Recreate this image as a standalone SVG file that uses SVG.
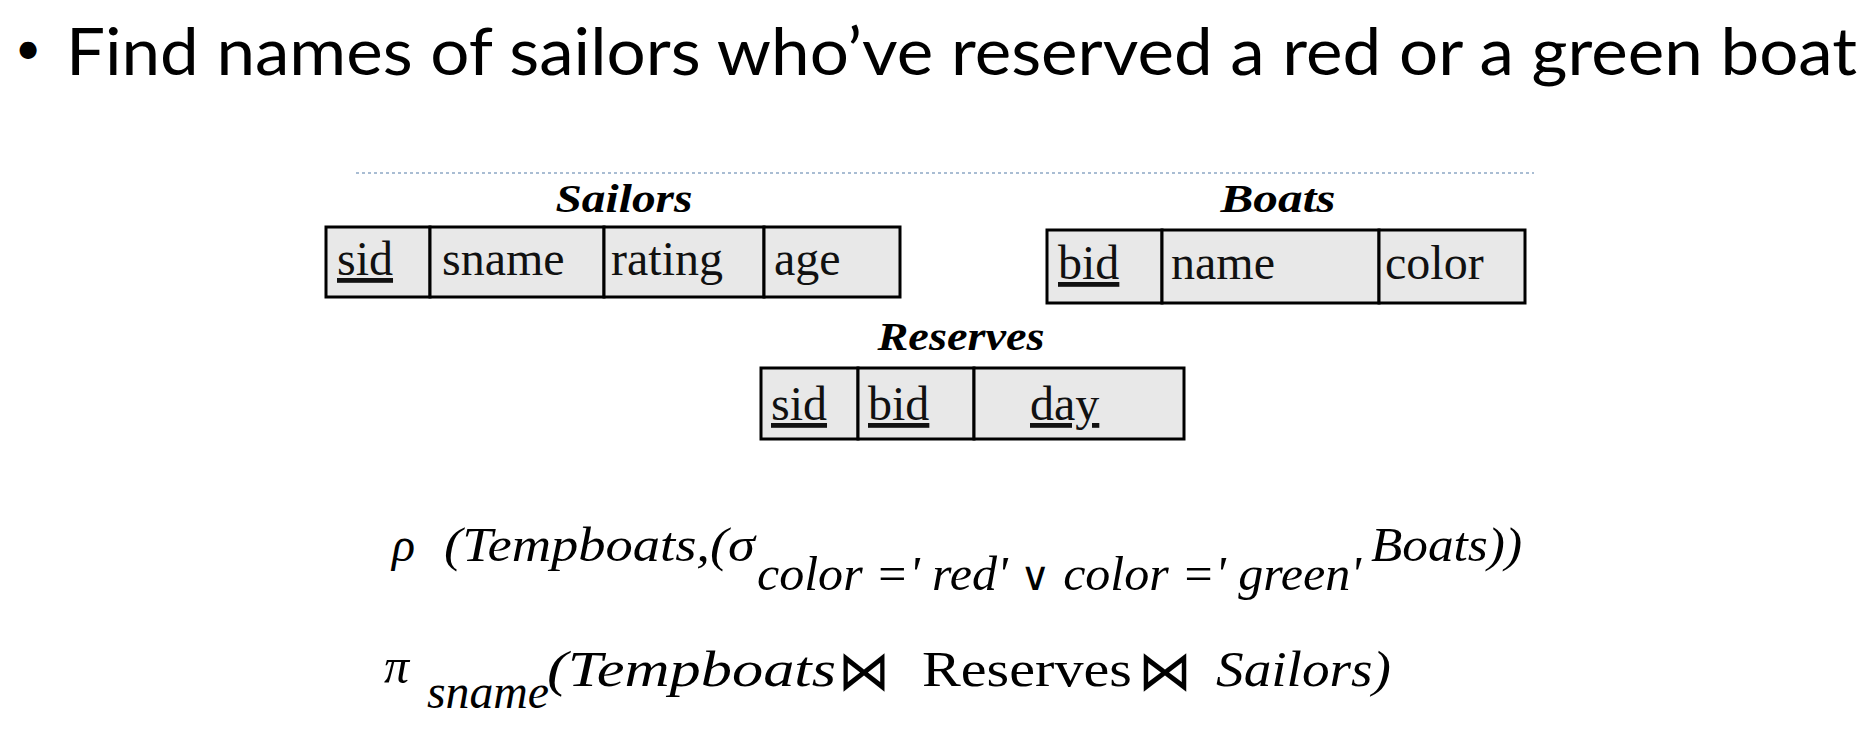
<svg xmlns="http://www.w3.org/2000/svg" width="1872" height="736" viewBox="0 0 1872 736">
<style>
.title{font-family:Lato,"Open Sans",sans-serif;font-size:65px;fill:#000}
.lbl{font-family:"Liberation Serif",serif;font-size:40px;font-weight:bold;font-style:italic;fill:#000;text-anchor:middle}
.cell{fill:#e8e8e8;stroke:#000;stroke-width:3}
.fld{font-family:"Liberation Serif",serif;font-size:48px;fill:#111}
.key{text-decoration:underline}
.m{font-family:"Liberation Serif",serif;font-style:italic;font-size:48px;fill:#000}
.r{font-family:"Liberation Serif",serif;font-size:50px;fill:#000}
.bt{font-family:"DejaVu Sans",sans-serif;font-size:56px;fill:#000}
.or{font-family:"DejaVu Serif",serif;font-style:normal}
</style>
<rect width="1872" height="736" fill="#fff"/>
<g id="title">
<text class="title" x="28" y="64" text-anchor="middle" style="font-size:46px">•</text>
<text class="title" x="66" y="75" textLength="1791" lengthAdjust="spacingAndGlyphs">Find names of sailors who’ve reserved a red or a green boat</text>
</g>
<line x1="356" y1="173" x2="1534" y2="173" stroke="#a9bdd3" stroke-width="2" stroke-dasharray="3 3"/>
<g id="sailors">
<text class="lbl" x="624" y="212" textLength="137" lengthAdjust="spacingAndGlyphs">Sailors</text>
<rect class="cell" x="326" y="227" width="104" height="70"/>
<rect class="cell" x="430" y="227" width="174" height="70"/>
<rect class="cell" x="604" y="227" width="160" height="70"/>
<rect class="cell" x="764" y="227" width="136" height="70"/>
<text class="fld key" x="337" y="275">sid</text>
<text class="fld" x="442" y="275">sname</text>
<text class="fld" x="611" y="275">rating</text>
<text class="fld" x="774" y="275">age</text>
</g>
<g id="boats">
<text class="lbl" x="1278" y="212" textLength="115" lengthAdjust="spacingAndGlyphs">Boats</text>
<rect class="cell" x="1047" y="230" width="115" height="73"/>
<rect class="cell" x="1162" y="230" width="217" height="73"/>
<rect class="cell" x="1379" y="230" width="146" height="73"/>
<text class="fld key" x="1058" y="279">bid</text>
<text class="fld" x="1171" y="279">name</text>
<text class="fld" x="1385" y="279">color</text>
</g>
<g id="reserves">
<text class="lbl" x="961" y="350" textLength="167" lengthAdjust="spacingAndGlyphs">Reserves</text>
<rect class="cell" x="761" y="368" width="97" height="71"/>
<rect class="cell" x="858" y="368" width="116" height="71"/>
<rect class="cell" x="974" y="368" width="210" height="71"/>
<text class="fld key" x="771" y="420">sid</text>
<text class="fld key" x="868" y="420">bid</text>
<text class="fld key" x="1030" y="420">day</text>
</g>
<g id="formula1">
<text class="m" x="392" y="561">ρ</text>
<text class="m" x="444" y="561" textLength="311" lengthAdjust="spacingAndGlyphs">(Tempboats,(σ</text>
<text class="m" x="757" y="590" textLength="604" lengthAdjust="spacingAndGlyphs">color =' red' <tspan class="or" style="font-size:40px">∨</tspan> color =' green'</text>
<text class="m" x="1371" y="561" textLength="151" lengthAdjust="spacingAndGlyphs">Boats))</text>
</g>
<g id="formula2">
<text class="m" x="384" y="683" style="font-size:50px">π</text>
<text class="m" x="427" y="708" textLength="122" lengthAdjust="spacingAndGlyphs">sname</text>
<text class="m" x="547" y="686" textLength="289" lengthAdjust="spacingAndGlyphs" style="font-size:50px">(Tempboats</text>
<text class="bt" x="838" y="690" textLength="52" lengthAdjust="spacingAndGlyphs">⋈</text>
<text class="r" x="922" y="686" textLength="210" lengthAdjust="spacingAndGlyphs">Reserves</text>
<text class="bt" x="1138" y="690" textLength="54" lengthAdjust="spacingAndGlyphs">⋈</text>
<text class="m" x="1216" y="686" textLength="175" lengthAdjust="spacingAndGlyphs" style="font-size:50px">Sailors)</text>
</g>
</svg>
